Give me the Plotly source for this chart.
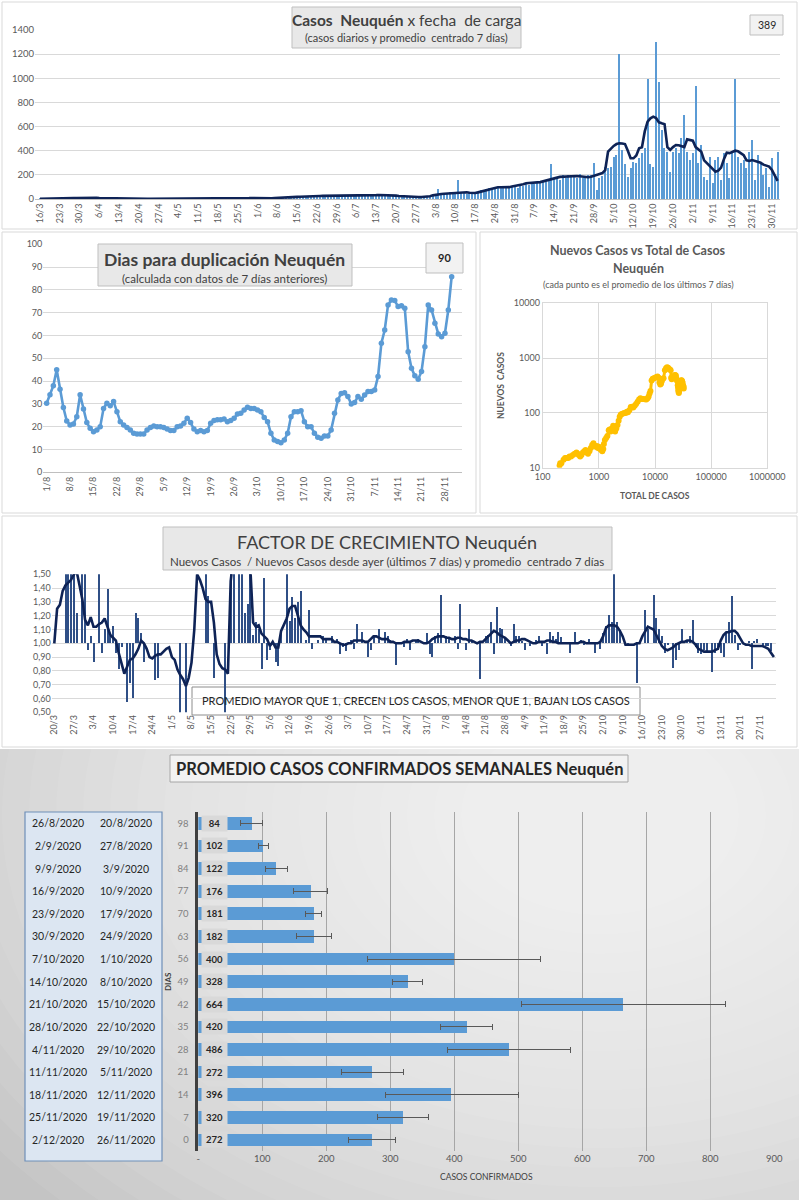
import pandas as pd
import plotly.graph_objects as go

W, H = 799, 1200
def fx(p): return p / W
def fy(p): return 1 - p / H

FONT = "Lato, 'Noto Sans', sans-serif"
GRAY_TXT = "#595959"

# ---------------- Panel 1: casos diarios ----------------
casos_inicio = "2020-03-16"
casos_diarios = [
    1, 0, 2, 1, 3, 2, 4,   3, 2, 5, 4, 6, 3, 5,   8, 12, 6, 9, 15, 7, 10,
    11, 8, 12, 9, 7, 10, 6,   5, 3, 4, 2, 3, 1, 2,   2, 1, 3, 2, 1, 2, 1,
    1, 2, 0, 1, 3, 1, 2,   2, 1, 0, 2, 1, 3, 1,   2, 1, 3, 2, 1, 0, 2,
    1, 2, 3, 1, 2, 4, 3,   2, 3, 5, 9, 12, 8, 6,   3, 4, 2, 5, 3, 8, 9,
    12, 8, 11, 10, 14, 18, 16,   20, 15, 22, 17, 19, 24, 21,   28, 22, 30, 25, 27, 24, 31,
    26, 29, 23, 28, 33, 25, 30,   27, 24, 35, 29, 26, 31, 28,   38, 30, 42, 35, 28, 33, 31,
    26, 30, 22, 19, 25, 18, 14,   16, 12, 18, 10, 14, 17, 35,
    45, 80, 38, 52, 41, 60, 48,   55, 157, 50, 62, 45, 58, 40,   50, 65, 72, 55, 85, 92, 78,
    100, 95, 88, 110, 92, 104, 98,   112, 95, 120, 108, 130, 115, 140,   125, 140, 132, 150, 145, 160, 287,
    170, 185, 160, 195, 178, 200, 182,   190, 175, 205, 170, 185, 195, 200,
    295, 75, 171, 190, 268, 254, 268, 350, 364, 1198,
    406, 290, 179, 254, 309, 295, 337, 378, 420, 996,
    290, 268, 1303, 972, 571, 420, 392, 226, 392, 420,
    378, 502, 696, 392, 323, 378, 936, 295, 447, 185,
    157, 350, 130, 323, 350, 157, 378, 295, 171, 378,
    991, 350, 295, 323, 254, 392, 488, 157, 364, 295,
    199, 254, 102, 337, 185, 389,
]
casos_promedio = [
    1, 1, 2, 2, 3, 3, 4, 4, 5, 5, 6, 6, 7,
    8, 9, 9, 10, 10, 10, 9, 9, 8, 8, 7, 6, 5, 4,
    3, 3, 3, 2, 2, 2, 2, 2, 2, 2, 2, 2, 1, 1, 1, 1, 1, 1, 2, 2,
    2, 1, 1, 1, 1, 1, 1, 1, 1, 1, 1, 1, 1, 1, 2, 2, 2, 2, 2, 2,
    2, 2, 2, 3, 3, 4, 5,
    7, 8, 7,
    5, 4, 4, 4, 5, 6, 8,
    10, 11, 11, 12, 14,
    16, 17, 18, 19, 19, 20, 21, 22,
    24, 25, 25, 26, 26, 27, 27, 27, 27, 28, 28, 28, 28, 28, 28, 29, 29, 29, 30, 30, 31, 31,
    32, 33, 33, 34, 33, 32, 30, 28,
    25, 23, 22, 21, 20, 19, 18,
    17, 16, 16, 17, 22,
    30,
    35, 38, 41, 43, 45, 47,
    50, 53, 55, 57, 58, 56,
    52, 50, 50, 55,
    61, 67, 74, 80, 88, 92,
    97, 97, 97, 97, 98,
    104, 108, 111, 113, 122,
    130, 132, 133, 134, 135,
    140, 146, 151, 157,
    165, 172, 177,
    183, 185, 186, 188, 189, 190, 190, 189,
    185, 182, 180, 184, 190,
    200, 207, 215, 240, 392, 420, 440, 455, 461, 460,
    455, 400, 337, 337, 360, 420, 428, 560, 640, 668,
    682, 670, 635, 627, 620, 430, 406, 430, 447, 445,
    435, 430, 494, 490, 483, 430, 410, 392, 320, 295,
    270, 245, 226, 235, 260, 330, 384, 380, 390, 400,
    395, 380, 364, 320, 315, 323, 315, 309, 300, 285,
    276, 268, 240, 200, 150,
]
ultimo_valor = "389"

# ---------------- Panel 2: días para duplicación ----------------
dup_inicio = "2020-08-01"
dias_duplicacion = [
    30.3, 34, 38, 45, 36.4, 28.4, 22.5, 20.8, 21.2, 24.4,
    34, 27.8, 21.8, 19.3, 17.8, 18.6, 20, 28, 30.3, 29.2,
    31, 26.6, 22.2, 20.8, 19.7, 18.6, 17.1, 16.8, 16.8, 16.8,
    18.6, 19.7, 20.3, 20, 20, 19.7, 19, 18.3, 18.3, 20,
    20.3, 21.5, 23.7, 21.8, 19, 17.8, 18.3, 17.8, 18.3, 21.5,
    22.7, 23, 23, 23.4, 22.2, 22.7, 23.7, 25.6, 25.9, 27.3,
    28.5, 28, 28, 27.3, 26.6, 24, 22.2, 17.1, 14.2, 13.5,
    13, 14.2, 17.1, 24.4, 26.6, 26.6, 27, 22.2, 20, 20,
    17.1, 15.4, 14.9, 15.9, 15.9, 18.6, 25.9, 31.7, 34.6, 34.9,
    33.2, 30, 30.6, 33.2, 32, 33.9, 35.4, 35.4, 36.1, 42,
    56.6, 62.4, 73.4, 75.6, 75.3, 72.7, 73, 71.9, 52.9, 45.6,
    42.3, 40.8, 44.2, 55.1, 73.4, 71.2, 65.4, 60.7, 59.5, 61,
    71.2, 85.8,
]
ultimo_dup = "90"

# ---------------- Panel 3: nuevos vs total ----------------
total_casos = [
    200, 205, 215, 235, 250, 265, 285, 300, 320, 345, 370, 400, 420, 440, 465, 490,
    520, 550, 580, 610, 640, 680, 720, 760, 800, 840, 880, 920, 960, 1000, 1050, 1100,
    1150, 1200, 1230, 1280, 1350, 1420, 1500, 1560, 1620, 1700, 1800, 1900, 1950, 2050,
    2150, 2250, 2350, 2450, 2550, 2700, 2850, 3000, 3150, 3300, 3500, 3700, 3900, 4100,
    4350, 4600, 4900, 5200, 5500, 5800, 6200, 6600, 7000, 7400, 7700, 8000, 8300, 8700,
    9100, 9600, 10100, 10600, 11100, 11600, 12000, 12400, 12800, 13200, 13700, 14200,
    15000, 15700, 16400, 17100, 17800, 18400, 19000, 19400, 19800, 20300, 20800, 21300,
    21800, 22500, 23000, 23500, 24000, 24500, 25000, 25400, 25700, 26000, 26300, 26600,
    27000, 27500, 28000, 28500, 29000, 29500, 30000, 30500, 31000, 31300, 31600, 31900,
    32200, 32500,
]
nuevos_casos = [
    11, 12, 12, 14, 15, 15, 15, 16, 16, 17, 18, 19, 18, 17, 16, 17,
    19, 20, 21, 19, 18, 20, 23, 26, 28, 25, 24, 25, 23, 24, 22, 21,
    20, 22, 27, 32, 35, 38, 48, 50, 46, 52, 58, 55, 46, 52,
    60, 72, 85, 93, 95, 97, 100, 100, 105, 103, 112, 128, 130, 126,
    135, 145, 160, 175, 185, 180, 180, 178, 176, 185, 200, 225, 250, 390,
    420, 430, 440, 450, 460, 440, 360, 330, 340, 380, 420, 430,
    600, 650, 680, 670, 630, 620, 600, 440, 410, 430, 440, 445,
    440, 490, 485, 480, 430, 400, 380, 320, 290, 260, 240, 230,
    250, 290, 350, 380, 385, 395, 390, 375, 355, 320, 310, 310,
    300, 280,
]

# ---------------- Panel 4: factor de crecimiento ----------------
factor_inicio = "2020-03-20"
factor_diario = [
    1.00, 1.00, 1.00, 1.00, 1.60, 1.60, 1.60, 1.60, 1.22, 1.00,
    1.60, 1.60, 0.95, 1.05, 0.86, 1.00, 1.60, 0.93, 1.10, 1.39,
    1.05, 1.12, 0.93, 0.81, 0.97, 1.00, 0.57, 0.71, 0.60, 1.22,
    1.18, 1.07, 0.86, 1.00, 1.00, 1.00, 0.73, 0.75, 1.00, 1.00,
    1.00, 1.00, 1.00, 1.00, 1.00, 0.45, 1.00, 0.45, 1.00, 1.00,
    1.00, 1.00, 1.00, 1.00, 1.60, 1.34, 1.00, 0.75, 1.00, 1.00,
    1.00, 0.45, 1.00, 1.60, 1.60, 1.00, 1.60, 1.60, 1.22, 1.28,
    1.60, 1.06, 1.15, 1.10, 0.81, 1.47, 0.88, 0.95, 1.00, 0.86,
    0.83, 1.08, 1.00, 1.50, 1.16, 1.33, 1.18, 1.30, 1.38, 1.00,
    1.02, 1.24, 0.96, 1.00, 1.02, 1.00, 1.05, 1.02, 1.00, 1.05,
    1.00, 1.03, 0.92, 0.97, 0.94, 1.00, 1.02, 0.96, 1.14, 1.00,
    1.08, 1.00, 0.90, 0.95, 1.05, 1.00, 1.10, 1.00, 1.08, 1.05,
    1.02, 1.00, 0.84, 1.00, 1.00, 0.97, 1.03, 0.95, 1.00, 1.02,
    1.03, 1.00, 1.00, 1.07, 0.92, 0.90, 1.05, 1.07, 1.35, 1.00,
    1.05, 1.04, 1.00, 1.05, 0.96, 1.28, 1.00, 0.95, 1.10, 1.02,
    1.00, 1.00, 0.74, 1.00, 1.05, 1.06, 1.15, 0.92, 1.26, 1.11,
    1.10, 1.04, 1.00, 0.98, 1.14, 1.05, 1.05, 1.01, 0.95, 1.00,
    0.98, 1.00, 1.02, 1.05, 0.98, 1.00, 0.92, 1.08, 1.05, 1.03,
    1.08, 1.04, 1.00, 1.00, 0.93, 1.00, 1.08, 1.00, 1.02, 0.99,
    1.00, 1.03, 1.00, 0.93, 1.00, 0.96, 1.07, 1.12, 1.20, 1.15,
    1.50, 1.15, 1.08, 1.00, 1.00, 0.98, 1.00, 1.00, 0.71, 1.00,
    1.00, 1.24, 1.10, 1.00, 1.35, 1.18, 1.10, 1.05, 0.93, 0.99,
    1.00, 0.82, 0.88, 0.95, 1.10, 1.00, 1.02, 1.05, 1.17, 0.97,
    0.93, 0.92, 0.95, 0.93, 1.00, 0.79, 0.93, 0.95, 0.93, 0.90,
    1.08, 1.15, 1.34, 1.06, 0.95, 0.99, 1.00, 1.00, 1.01, 0.81,
    1.01, 1.03, 1.00, 0.99, 0.98, 0.98, 0.94, 1.00,
]
factor_promedio = [
    1.00, 1.25, 1.28, 1.38, 1.42, 1.44, 1.46, 1.50, 1.52, 1.42,
    1.32, 1.17, 1.13, 1.19, 1.12, 1.12, 1.14, 1.15, 1.18, 1.12,
    1.06, 1.04, 1.02, 0.93, 0.85, 0.78, 0.83, 0.88, 0.89, 0.92,
    0.96, 1.02, 1.00, 0.96, 0.90, 0.89, 0.91, 0.92, 0.92, 0.94,
    0.96, 0.97, 0.90, 0.88, 0.81, 0.77, 0.74, 0.69, 0.75, 0.86,
    1.10, 1.50, 1.46, 1.40, 1.32, 1.30, 1.30, 1.15, 0.92, 0.85,
    0.82, 0.81, 0.78, 1.45, 1.70, 1.90, 2.00, 2.00, 1.90, 1.75,
    1.55, 1.15, 1.12, 1.13, 1.07, 1.05, 1.03, 0.98, 1.01, 0.97,
    0.97, 1.09, 1.14, 1.18, 1.25, 1.27, 1.27, 1.20, 1.13, 1.10,
    1.08, 1.05, 1.05, 1.05, 1.05, 1.05, 1.03, 1.03, 1.03, 1.03,
    1.01, 1.01, 1.00, 0.99, 0.99, 1.00, 1.00, 1.02, 1.02, 1.02,
    1.02, 1.01, 1.01, 1.03, 1.05, 1.05, 1.04, 1.03, 1.03, 1.03,
    1.01, 1.01, 1.00, 1.00, 1.00, 1.01, 1.01, 1.01, 1.02, 1.02,
    1.02, 1.01, 1.00, 1.00, 1.01, 1.03, 1.04, 1.05, 1.05, 1.05,
    1.04, 1.04, 1.03, 1.03, 1.04, 1.04, 1.03, 1.03, 1.02, 1.02,
    1.01, 1.00, 1.01, 1.01, 1.03, 1.05, 1.07, 1.09, 1.08, 1.06,
    1.05, 1.04, 1.02, 1.00, 1.01, 1.02, 1.02, 1.03, 1.03, 1.02,
    1.01, 1.00, 1.00, 1.01, 1.01, 1.01, 1.02, 1.02, 1.01, 1.01,
    1.00, 1.00, 1.00, 1.00, 1.00, 1.00, 1.00, 1.00, 1.01, 1.01,
    1.00, 1.00, 1.00, 1.00, 1.00, 1.01, 1.05, 1.11, 1.13, 1.13,
    1.13, 1.12, 1.09, 1.05, 0.99, 0.99, 0.99, 0.99, 1.00, 1.00,
    1.05, 1.09, 1.12, 1.11, 1.10, 1.06, 1.02, 0.98, 0.96, 0.95,
    0.96, 0.97, 0.99, 1.00, 1.01, 1.01, 1.02, 1.02, 1.01, 0.99,
    0.96, 0.95, 0.94, 0.94, 0.94, 0.94, 0.95, 0.96, 1.02, 1.06,
    1.08, 1.08, 1.09, 1.09, 1.07, 1.03, 1.00, 0.99, 0.99, 0.98,
    0.98, 0.98, 0.98, 0.98, 0.97, 0.96, 0.93, 0.90,
]
factor_ticks = [0.5, 0.6, 0.7, 0.8, 0.9, 1.0, 1.1, 1.2, 1.3, 1.4, 1.5]
factor_ticktext = ["0,50", "0,60", "0,70", "0,80", "0,90", "1,00", "1,10", "1,20", "1,30", "1,40", "1,50"]

# ---------------- Panel 5: promedio semanal ----------------
dias = ["98", "91", "84", "77", "70", "63", "56", "49", "42", "35", "28", "21", "14", "7", "0"]
promedio_semanal = [84, 102, 122, 176, 181, 182, 400, 328, 664, 420, 486, 272, 396, 320, 272]
error_mas = [16, 7, 17, 26, 12, 26, 135, 23, 159, 40, 95, 48, 104, 39, 36]
error_menos = [18, 8, 17, 28, 13, 28, 136, 25, 159, 41, 96, 48, 104, 40, 38]
fecha_fin = ["26/8/2020", "2/9/2020", "9/9/2020", "16/9/2020", "23/9/2020", "30/9/2020", "7/10/2020",
             "14/10/2020", "21/10/2020", "28/10/2020", "4/11/2020", "11/11/2020", "18/11/2020",
             "25/11/2020", "2/12/2020"]
fecha_ini = ["20/8/2020", "27/8/2020", "3/9/2020", "10/9/2020", "17/9/2020", "24/9/2020", "1/10/2020",
             "8/10/2020", "15/10/2020", "22/10/2020", "29/10/2020", "5/11/2020", "12/11/2020",
             "19/11/2020", "26/11/2020"]
x5_ticks = [0, 100, 200, 300, 400, 500, 600, 700, 800, 900]
x5_ticktext = ["-", "100", "200", "300", "400", "500", "600", "700", "800", "900"]

# ---------------------------------------------------------
DAY = 86400000
def tstr(base, days):
    return (pd.Timestamp(base) + pd.Timedelta(days=days)).strftime("%Y-%m-%d %H:%M:%S")

f1 = pd.date_range(casos_inicio, periods=len(casos_diarios), freq="D")
f1b = pd.date_range(casos_inicio, periods=len(casos_promedio), freq="D")
f2 = pd.date_range(dup_inicio, periods=len(dias_duplicacion), freq="D")
f4 = pd.date_range(factor_inicio, periods=len(factor_diario), freq="D")
f4b = pd.date_range(factor_inicio, periods=len(factor_promedio), freq="D")
pos5 = list(range(len(dias)))  # row positions for the category axis

fig = go.Figure()

# Panel 1
fig.add_trace(go.Bar(x=f1, y=casos_diarios, width=0.42 * DAY, marker=dict(color="#5b9bd5", line=dict(width=0)),
                     xaxis="x", yaxis="y", showlegend=False))
fig.add_trace(go.Scatter(x=f1b, y=casos_promedio, mode="lines", line=dict(color="#0e2356", width=2.6),
                         xaxis="x", yaxis="y", showlegend=False))
# Panel 2
fig.add_trace(go.Scatter(x=f2, y=dias_duplicacion, mode="lines+markers",
                         line=dict(color="#5b9bd5", width=2.6), marker=dict(size=5.5, color="#5b9bd5"),
                         xaxis="x2", yaxis="y2", showlegend=False))
# Panel 3
fig.add_trace(go.Scatter(x=total_casos, y=nuevos_casos, mode="lines+markers",
                         line=dict(color="#ffc000", width=3), marker=dict(size=6, color="#ffc000"),
                         xaxis="x3", yaxis="y3", showlegend=False))
# Panel 4
fig.add_trace(go.Bar(x=f4, y=[v - 1 for v in factor_diario], base=1, width=0.5 * DAY,
                     marker=dict(color="#2f4f86", line=dict(width=0)),
                     xaxis="x4", yaxis="y4", showlegend=False))
fig.add_trace(go.Scatter(x=f4b, y=factor_promedio, mode="lines", line=dict(color="#0e2356", width=2.6),
                         xaxis="x4", yaxis="y4", showlegend=False))
# Panel 5
fig.add_trace(go.Bar(x=promedio_semanal, y=dias, orientation="h", width=0.56,
                     marker=dict(color="#5b9bd5", line=dict(width=0)),
                     error_x=dict(type="data", symmetric=False, array=error_mas, arrayminus=error_menos,
                                  color="#595959", thickness=1, width=3),
                     xaxis="x5", yaxis="y5", showlegend=False))

tick_small = dict(size=9, color=GRAY_TXT, family=FONT)

layout = dict(
    width=W, height=H, margin=dict(l=0, r=0, t=0, b=0), template="none",
    paper_bgcolor="white", plot_bgcolor="rgba(0,0,0,0)", font=dict(family=FONT, color="#404040"),
    bargap=0,
    xaxis=dict(domain=[fx(35), fx(780)], anchor="y", type="date",
               range=[tstr(casos_inicio, -1.77), tstr(casos_inicio, 261.85)],
               tick0=casos_inicio, dtick=7 * DAY, tickformat="%-d/%-m", tickangle=-90,
               tickfont=tick_small, showgrid=False, showline=True, linecolor="#bfbfbf",
               ticks="", automargin=False, zeroline=False),
    yaxis=dict(domain=[fy(199), fy(30)], anchor="x", range=[0, 1400], dtick=200,
               gridcolor="#d9d9d9", tickfont=dict(size=9.5, color=GRAY_TXT, family=FONT),
               zeroline=False, showline=False, ticks="", automargin=False),
    xaxis2=dict(domain=[fx(43.3), fx(461.7)], anchor="y2", type="date",
                range=[tstr(dup_inicio, -1), tstr(dup_inicio, 124)],
                tick0=dup_inicio, dtick=7 * DAY, tickformat="%-d/%-m", tickangle=-90,
                tickfont=tick_small, showgrid=False, showline=True, linecolor="#bfbfbf",
                ticks="", automargin=False, zeroline=False),
    yaxis2=dict(domain=[fy(472.3), fy(244.3)], anchor="x2", range=[0, 100], dtick=10,
                gridcolor="#d9d9d9", tickfont=tick_small, zeroline=False, showline=False,
                ticks="", automargin=False),
    xaxis3=dict(domain=[fx(542.7), fx(767.3)], anchor="y3", type="log", range=[2, 6],
                tickvals=[100, 1000, 10000, 100000, 1000000],
                ticktext=["100", "1000", "10000", "100000", "1000000"],
                tickfont=tick_small, gridcolor="#d9d9d9", showline=True, linecolor="#d9d9d9",
                mirror=True, ticks="", automargin=False, zeroline=False),
    yaxis3=dict(domain=[fy(467.7), fy(303.3)], anchor="x3", type="log", range=[1, 4],
                tickvals=[10, 100, 1000, 10000], ticktext=["10", "100", "1000", "10000"],
                tickfont=tick_small, gridcolor="#d9d9d9", showline=True, linecolor="#d9d9d9",
                mirror=True, ticks="", automargin=False, zeroline=False),
    xaxis4=dict(domain=[fx(51.7), fx(776)], anchor="y4", type="date",
                range=[tstr(factor_inicio, -0.93), tstr(factor_inicio, 257.75)],
                tick0=factor_inicio, dtick=7 * DAY, tickformat="%-d/%-m", tickangle=-90,
                tickfont=tick_small, showgrid=False, showline=False,
                ticks="", automargin=False, zeroline=False),
    yaxis4=dict(domain=[fy(712.3), fy(574.3)], anchor="x4", range=[0.5, 1.5],
                tickvals=factor_ticks, ticktext=factor_ticktext,
                gridcolor="#d9d9d9", tickfont=tick_small, zeroline=False, showline=False,
                ticks="", automargin=False),
    xaxis5=dict(domain=[fx(198.3), fx(774.3)], anchor="y5", range=[0, 900],
                tickvals=x5_ticks, ticktext=x5_ticktext,
                tickfont=dict(size=9.5, color=GRAY_TXT, family=FONT), showgrid=True,
                gridcolor="#a6a6a6", gridwidth=1, zeroline=False, showline=False,
                ticks="", automargin=False),
    yaxis5=dict(domain=[fy(1151.3), fy(812)], anchor="x5", type="category",
                categoryorder="array", categoryarray=dias,
                range=[len(dias) - 0.5, -0.5], autorange=False,
                tickfont=dict(size=9.5, color="#7f7f7f", family=FONT), showgrid=False,
                showline=True, linecolor="#404040", linewidth=2.5, ticks="",
                ticklabelstandoff=5, automargin=False, zeroline=False),
)
fig.update_layout(**layout)

shapes = []
def rect(x0, y0, x1, y1, fill="rgba(0,0,0,0)", line="#d9d9d9", lw=1, layer="below", opacity=1):
    shapes.append(dict(type="rect", xref="paper", yref="paper", x0=fx(x0), x1=fx(x1),
                       y0=fy(y1), y1=fy(y0), fillcolor=fill, line=dict(color=line, width=lw),
                       layer=layer, opacity=opacity))

# Panel 5 background (radial gradient approximation)
rect(0, 749, 799, 1200, fill="#c4c4c4", line="#c4c4c4", lw=0)
n_rings = 24
for i in range(n_rings):
    r = 760 - i * 27
    rx, ry = r, r * 0.72
    cx, cy = 600, 815
    shapes.append(dict(type="circle", xref="paper", yref="paper",
                       x0=fx(cx - rx), x1=fx(cx + rx), y0=fy(cy + ry), y1=fy(cy - ry),
                       fillcolor="white", opacity=0.065, line=dict(width=0), layer="below"))
# white area above panel 5
rect(0, 0, 799, 749, fill="white", line="white", lw=0)
# panel frames
rect(2, 2, 797, 229)
rect(2, 232, 476, 513)
rect(480, 232, 797, 513)
rect(2, 516, 797, 747)
# table
rect(25, 812, 162, 1161, fill="#dce6f2", line="#6f8fb8", lw=1.2)

# title boxes
rect(292, 7, 521, 48, fill="#e8e8e8", line="#bfbfbf", layer="above")
rect(750, 15, 783, 35, fill="#f2f2f2", line="#bfbfbf", layer="above")
rect(98, 244, 352, 286, fill="#e8e8e8", line="#bfbfbf", layer="above")
rect(426, 243, 463, 273, fill="#f2f2f2", line="#bfbfbf", layer="above")
rect(163, 527, 612, 570, fill="#e8e8e8", line="#bfbfbf", layer="above")
rect(192, 687, 640, 715, fill="white", line="#8c8c8c", layer="between")
rect(170, 755, 628, 782, fill="#f2f2f2", line="#a6a6a6", layer="above")

fig.update_layout(shapes=shapes)

ann = []
def text(px, py, s, size, color="#404040", xanchor="center", angle=0, **kw):
    ann.append(dict(x=fx(px), y=fy(py), xref="paper", yref="paper", text=s, showarrow=False,
                    xanchor=xanchor, yanchor="middle", textangle=angle,
                    font=dict(size=size, color=color, family=FONT), **kw))

text(406, 20, "<b>Casos  Neuquén</b> x fecha  de carga", 15.5, "#404040")
text(406, 38, "(casos diarios y promedio  centrado 7 días)", 11, "#404040")
text(766.5, 25, ultimo_valor, 10.5, "#262626")

text(225, 259, "<b>Dias para duplicación Neuquén</b>", 17.5, "#404040")
text(225, 278, "(calculada con datos de 7 días anteriores)", 11.5, "#404040")
text(444.5, 258, "<b>" + ultimo_dup + "</b>", 11, "#262626")

text(638, 250, "<b>Nuevos Casos vs Total de Casos</b>", 12.5, "#595959")
text(638, 268, "<b>Neuquén</b>", 12.5, "#595959")
text(638, 284, "(cada punto es el promedio de los últimos 7 días)", 9, "#595959")
text(501, 386, "<b>NUEVOS  CASOS</b>", 8.5, "#595959", angle=-90)
text(655, 496, "<b>TOTAL DE CASOS</b>", 8.5, "#595959")

text(387, 542, "FACTOR DE CRECIMIENTO Neuquén", 18, "#404040")
text(387, 561, "Nuevos Casos  / Nuevos Casos desde ayer (últimos 7 días) y promedio  centrado 7 días", 11.5, "#404040")
text(416, 701, "PROMEDIO MAYOR QUE 1, CRECEN LOS CASOS, MENOR QUE 1, BAJAN LOS CASOS", 11, "#262626")

text(399, 769, "<b>PROMEDIO CASOS CONFIRMADOS SEMANALES Neuquén</b>", 16.5, "#262626")
text(168, 982, "<b>DIAS</b>", 8, "#404040", angle=-90)
text(486, 1177, "CASOS CONFIRMADOS", 8.5, "#404040")

for i, v, a, b in zip(pos5, promedio_semanal, fecha_fin, fecha_ini):
    ann.append(dict(x=fx(58), y=i, xref="paper", yref="y5", text=a, showarrow=False,
                    xanchor="center", yanchor="middle", font=dict(size=10.5, color="#262626", family=FONT)))
    ann.append(dict(x=fx(126), y=i, xref="paper", yref="y5", text=b, showarrow=False,
                    xanchor="center", yanchor="middle", font=dict(size=10.5, color="#262626", family=FONT)))
    ann.append(dict(x=0, y=i, xref="x5", yref="y5", text="<b>" + str(v) + "</b>", showarrow=False,
                    xanchor="left", yanchor="middle", xshift=3, width=23, height=13,
                    bgcolor="#d9d9d9", font=dict(size=9.5, color="#262626", family=FONT)))

fig.update_layout(annotations=ann)
fig.write_html("out.html", config={"displayModeBar": False},
               post_script="document.body.style.margin='0px';document.body.style.padding='0px';")
